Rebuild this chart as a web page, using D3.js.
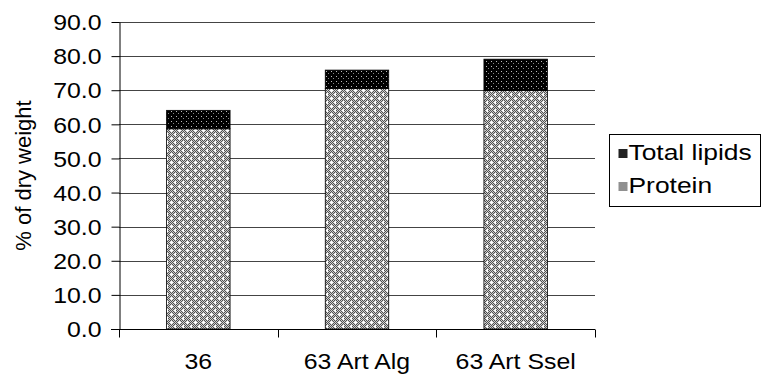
<!DOCTYPE html>
<html>
<head>
<meta charset="utf-8">
<script src="https://cdn.jsdelivr.net/npm/d3@7"></script>
<style>
  html, body { margin: 0; padding: 0; background: #fff; }
  svg { display: block; font-family: "Liberation Sans", Arial, sans-serif; }
</style>
</head>
<body>
<svg id="chart" width="765" height="376"></svg>
<script>
// Composition of dry weight per group
const categories = ["36", "63 Art Alg", "63 Art Ssel"];
const protein = [58.7, 70.5, 69.9];
const totalLipids = [5.4, 5.4, 9.2];
const seriesNames = ["Total lipids", "Protein"];
const yTicks = [0, 10, 20, 30, 40, 50, 60, 70, 80, 90];

const FONT = 22;      // label font size
const SX = 1.13;      // horizontal glyph stretch of the axis labels
const SX_LEGEND = 1.2;

const svg = d3.select("#chart");
const margin = { left: 119, right: 170, top: 22, bottom: 47 };
const W = 765, H = 376;

const x = d3.scaleBand().domain(categories)
  .range([margin.left, W - margin.right])
  .paddingInner(0.6).paddingOuter(0.3);
const xBand = d3.scaleBand().domain(categories)
  .range([margin.left, W - margin.right]);
const y = d3.scaleLinear().domain([0, 90]).range([H - margin.bottom, margin.top]);

// Fill patterns
const defs = svg.append("defs");
const checker = defs.append("pattern").attr("id", "checker")
  .attr("patternUnits", "userSpaceOnUse").attr("width", 2).attr("height", 2);
checker.append("rect").attr("width", 2).attr("height", 2).attr("fill", "#d0d0d0");
checker.append("rect").attr("width", 1).attr("height", 1).attr("fill", "#505050");
checker.append("rect").attr("x", 1).attr("y", 1).attr("width", 1).attr("height", 1).attr("fill", "#505050");

const plus = defs.append("pattern").attr("id", "plus")
  .attr("patternUnits", "userSpaceOnUse").attr("width", 8).attr("height", 8);
[[3, 1, 1, 3], [2, 2, 3, 1], [7, 5, 1, 3], [6, 6, 3, 1]].forEach(([px, py, pw, ph]) => {
  plus.append("rect").attr("x", px).attr("y", py).attr("width", pw).attr("height", ph).attr("fill", "#fff");
});

const dots = defs.append("pattern").attr("id", "dots")
  .attr("patternUnits", "userSpaceOnUse").attr("width", 5).attr("height", 5);
dots.append("rect").attr("width", 5).attr("height", 5).attr("fill", "#000");
dots.append("rect").attr("x", 1).attr("y", 1).attr("width", 1).attr("height", 1).attr("fill", "#bbb");
dots.append("rect").attr("x", 3).attr("y", 3).attr("width", 1).attr("height", 1).attr("fill", "#888");

const darkChecker = defs.append("pattern").attr("id", "darkChecker")
  .attr("patternUnits", "userSpaceOnUse").attr("width", 2).attr("height", 2);
darkChecker.append("rect").attr("width", 2).attr("height", 2).attr("fill", "#000");
darkChecker.append("rect").attr("width", 1).attr("height", 1).attr("fill", "#888");

// Gridlines
svg.append("g").selectAll("line").data(yTicks.filter(d => d > 0)).join("line")
  .attr("x1", margin.left).attr("x2", W - margin.right)
  .attr("y1", d => Math.round(y(d)) + 0.5).attr("y2", d => Math.round(y(d)) + 0.5)
  .attr("stroke", "#444").attr("stroke-width", 1);

// Stacked bars
const rows = categories.map((c, i) => ({ c, p: protein[i], l: totalLipids[i] }));
const bars = svg.append("g");
bars.selectAll("rect.pbase").data(rows).join("rect").attr("class", "pbase")
  .attr("x", d => x(d.c)).attr("width", x.bandwidth())
  .attr("y", d => y(d.p)).attr("height", d => y(0) - y(d.p))
  .attr("fill", "url(#checker)");
bars.selectAll("rect.pplus").data(rows).join("rect").attr("class", "pplus")
  .attr("x", d => x(d.c)).attr("width", x.bandwidth())
  .attr("y", d => y(d.p)).attr("height", d => y(0) - y(d.p))
  .attr("fill", "url(#plus)").attr("stroke", "#000").attr("stroke-width", 0.8);
bars.selectAll("rect.lip").data(rows).join("rect").attr("class", "lip")
  .attr("x", d => x(d.c)).attr("width", x.bandwidth())
  .attr("y", d => y(d.p + d.l)).attr("height", d => y(d.p) - y(d.p + d.l))
  .attr("fill", "url(#dots)").attr("stroke", "#000").attr("stroke-width", 0.8);

// Y axis
const yAxis = svg.append("g").attr("transform", `translate(${margin.left + 0.5},0)`)
  .call(d3.axisLeft(y).tickValues(yTicks).tickFormat(d3.format(".1f")).tickSize(8).tickSizeOuter(0));
yAxis.select(".domain").attr("stroke", "#000");
yAxis.selectAll(".tick line").attr("stroke", "#000");
yAxis.selectAll(".tick text")
  .attr("font-size", FONT).attr("fill", "#000")
  .attr("font-family", "Liberation Sans, Arial, sans-serif")
  .attr("x", -18 / SX).attr("dy", "0.35em")
  .attr("transform", `scale(${SX},1)`);

// X axis with ticks at category boundaries
const xAxisY = Math.round(y(0)) + 0.5;
const xg = svg.append("g");
xg.append("line").attr("x1", margin.left - 8).attr("x2", W - margin.right)
  .attr("y1", xAxisY).attr("y2", xAxisY).attr("stroke", "#000");
const bounds = categories.map(c => xBand(c) + xBand.bandwidth());
xg.selectAll("line.tk").data([margin.left].concat(bounds)).join("line").attr("class", "tk")
  .attr("x1", d => Math.round(d) + 0.5).attr("x2", d => Math.round(d) + 0.5)
  .attr("y1", xAxisY).attr("y2", xAxisY + 8).attr("stroke", "#000");
xg.selectAll("text").data(categories).join("text")
  .attr("transform", d => `translate(${xBand(d) + xBand.bandwidth() / 2},369) scale(${SX},1)`)
  .attr("text-anchor", "middle").attr("font-size", FONT).attr("fill", "#000").text(d => d);

// Y axis title
svg.append("text")
  .attr("transform", `translate(31,${(y(0) + y(90)) / 2}) rotate(-90)`)
  .attr("text-anchor", "middle").attr("font-size", FONT).attr("fill", "#000")
  .text("% of dry weight");

// Legend
const lg = svg.append("g").attr("transform", "translate(609.5,134.5)");
lg.append("rect").attr("width", 151).attr("height", 72)
  .attr("fill", "#fff").attr("stroke", "#000").attr("stroke-width", 1);
const swatches = ["url(#darkChecker)", "url(#checker)"];
seriesNames.forEach((name, i) => {
  const base = 25 + i * 33;
  lg.append("rect").attr("x", 9).attr("y", base - 10.5).attr("width", 9).attr("height", 9)
    .attr("fill", swatches[i]);
  lg.append("text").attr("transform", `translate(19,${base}) scale(${SX_LEGEND},1)`)
    .attr("font-size", FONT).attr("fill", "#000").text(name);
});
</script>
</body>
</html>
